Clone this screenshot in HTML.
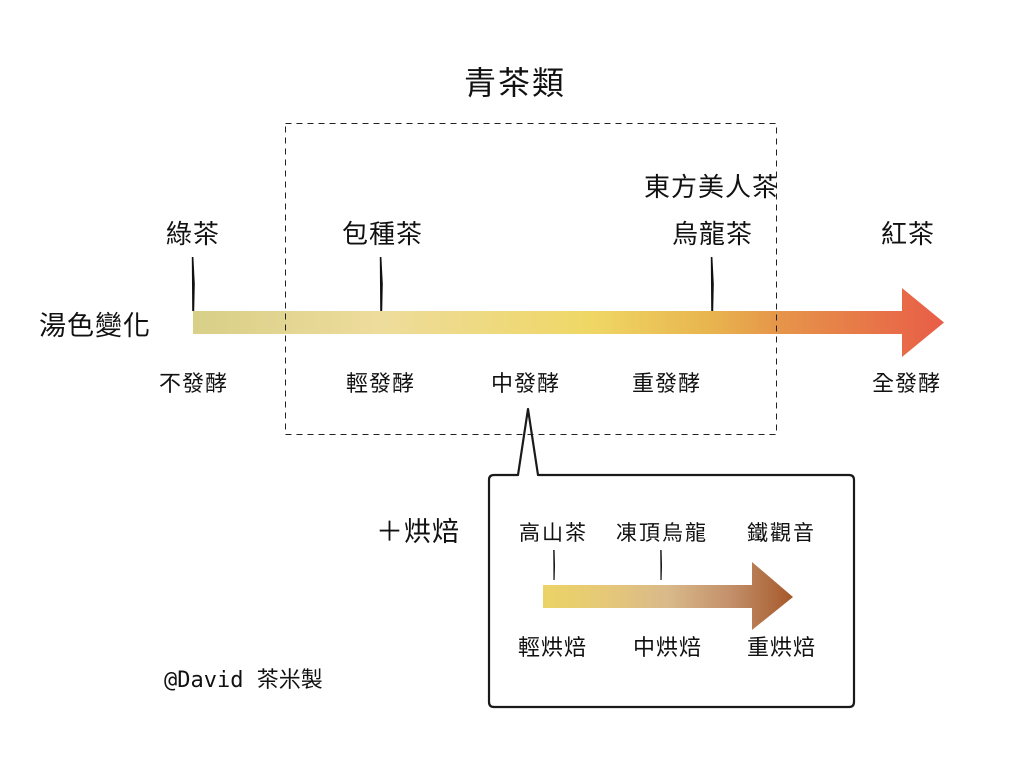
<!DOCTYPE html>
<html>
<head>
<meta charset="utf-8">
<style>
  html,body{margin:0;padding:0;background:#fff;}
  svg{display:block;}
  text{font-family:"Liberation Sans","Noto Sans CJK TC","Noto Sans CJK SC",sans-serif;fill:#111;}
  .mono{font-family:"DejaVu Sans Mono","Liberation Mono","Noto Sans CJK TC",monospace;}
</style>
</head>
<body>
<svg width="1024" height="768" viewBox="0 0 1024 768" xmlns="http://www.w3.org/2000/svg">
  <defs>
    <linearGradient id="g1" gradientUnits="userSpaceOnUse" x1="193" y1="0" x2="944" y2="0">
      <stop offset="0" stop-color="#d8cf88"/>
      <stop offset="0.25" stop-color="#eedc9c"/>
      <stop offset="0.53" stop-color="#efd765"/>
      <stop offset="0.69" stop-color="#e8b44e"/>
      <stop offset="0.78" stop-color="#e6954a"/>
      <stop offset="1" stop-color="#e85d47"/>
    </linearGradient>
    <linearGradient id="g2" gradientUnits="userSpaceOnUse" x1="543" y1="0" x2="793" y2="0">
      <stop offset="0" stop-color="#ecd366"/>
      <stop offset="0.25" stop-color="#e6c878"/>
      <stop offset="0.5" stop-color="#d9b98a"/>
      <stop offset="0.75" stop-color="#c3906a"/>
      <stop offset="1" stop-color="#a5582a"/>
    </linearGradient>
  </defs>

  <!-- title -->
  <text x="464" y="94" font-size="32" letter-spacing="2">青茶類</text>

  <!-- main arrow -->
  <polygon points="193,311 902,311 902,288 944,322.5 902,357 902,334 193,334" fill="url(#g1)"/>

  <!-- dashed box -->
  <rect x="285.5" y="123.5" width="491" height="311" fill="none" stroke="#222" stroke-width="1" stroke-dasharray="6,5"/>

  <!-- ticks (tapered) -->
  <polygon points="191.8,257 193.4,257 194.8,284 194.2,311 192.2,311 192,284" fill="#111"/>
  <polygon points="379.8,257 381.4,257 382.8,284 382.2,311 380.2,311 380,284" fill="#111"/>
  <polygon points="710.8,257 712.4,257 713.8,284 713.2,311 711.2,311 711,284" fill="#111"/>

  <!-- top labels -->
  <text x="166" y="243" font-size="26" letter-spacing="1">綠茶</text>
  <text x="342" y="243" font-size="26" letter-spacing="1">包種茶</text>
  <text x="644" y="196" font-size="26" letter-spacing="1">東方美人茶</text>
  <text x="672" y="243" font-size="26" letter-spacing="1">烏龍茶</text>
  <text x="881" y="243" font-size="26" letter-spacing="1">紅茶</text>

  <text x="39" y="335" font-size="27" letter-spacing="1">湯色變化</text>

  <!-- bottom labels -->
  <text x="159" y="391" font-size="22" letter-spacing="1">不發酵</text>
  <text x="346" y="391" font-size="22" letter-spacing="1">輕發酵</text>
  <text x="491" y="391" font-size="22" letter-spacing="1">中發酵</text>
  <text x="632" y="391" font-size="22" letter-spacing="1">重發酵</text>
  <text x="872" y="391" font-size="22" letter-spacing="1">全發酵</text>

  <!-- callout -->
  <path d="M494 475 L518 475 L528 409 L538 475 L849 475 Q854 475 854 480 L854 702 Q854 707 849 707 L494 707 Q489 707 489 702 L489 480 Q489 475 494 475 Z" fill="none" stroke="#1a1a1a" stroke-width="2.2" stroke-linejoin="round"/>

  <text x="376" y="541" font-size="27" letter-spacing="1">＋烘焙</text>

  <text x="519" y="540" font-size="21" letter-spacing="2">高山茶</text>
  <text x="616" y="540" font-size="21" letter-spacing="2">凍頂烏龍</text>
  <text x="747" y="540" font-size="21" letter-spacing="2">鐵觀音</text>

  <polygon points="553.2,550 554.6,550 555,566 554.6,580 553.4,580 553.4,566" fill="#111"/>
  <polygon points="660.2,550 661.6,550 662,566 661.6,580 660.4,580 660.4,566" fill="#111"/>

  <polygon points="543,585 752,585 752,562 793,597 752,630 752,608 543,608" fill="url(#g2)"/>

  <text x="518" y="655" font-size="22" letter-spacing="1">輕烘焙</text>
  <text x="633" y="655" font-size="22" letter-spacing="1">中烘焙</text>
  <text x="747" y="655" font-size="22" letter-spacing="1">重烘焙</text>

  <!-- signature -->
  <text x="164" y="687" font-size="22" class="mono">@David 茶米製</text>
</svg>
</body>
</html>
